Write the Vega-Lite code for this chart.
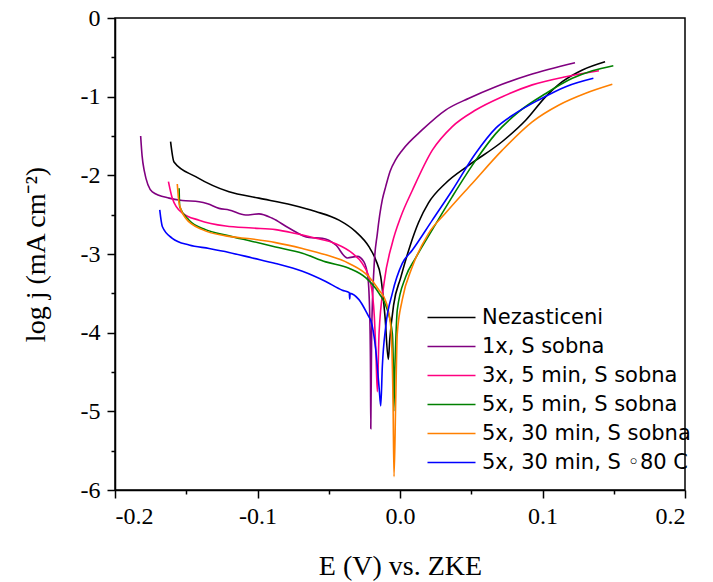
{
  "$schema": "https://vega.github.io/schema/vega-lite/v6.json",
  "width": 570,
  "height": 472,
  "autosize": {"type": "none"},
  "padding": {"left": 115, "top": 18, "right": 28, "bottom": 92},
  "background": "white",
  "config": {
    "view": {"stroke": "black", "strokeWidth": 1.5},
    "axis": {"domainColor": "black", "domainWidth": 1.5, "tickColor": "black", "tickWidth": 1.5, "grid": false,
      "labelFont": "Liberation Serif", "labelFontSize": 24, "labelColor": "black",
      "titleFont": "Liberation Serif", "titleFontSize": 28, "titleFontWeight": "normal", "titleColor": "black"}
  },
  "data": {"values": [
    {"s":"Nezasticeni","i":0,"E":-0.161,"j":-1.572},{"s":"Nezasticeni","i":1,"E":-0.1586,"j":-1.83},{"s":"Nezasticeni","i":2,"E":-0.1434,"j":-2.017},{"s":"Nezasticeni","i":3,"E":-0.12,"j":-2.21},{"s":"Nezasticeni","i":4,"E":-0.099,"j":-2.29},{"s":"Nezasticeni","i":5,"E":-0.0758,"j":-2.377},{"s":"Nezasticeni","i":6,"E":-0.0592,"j":-2.46},{"s":"Nezasticeni","i":7,"E":-0.0428,"j":-2.57},{"s":"Nezasticeni","i":8,"E":-0.0311,"j":-2.716},{"s":"Nezasticeni","i":9,"E":-0.0218,"j":-2.907},{"s":"Nezasticeni","i":10,"E":-0.017,"j":-3.076},{"s":"Nezasticeni","i":11,"E":-0.0135,"j":-3.29},{"s":"Nezasticeni","i":12,"E":-0.0105,"j":-3.8},{"s":"Nezasticeni","i":13,"E":-0.0082,"j":-4.34},{"s":"Nezasticeni","i":14,"E":-0.0072,"j":-4.09},{"s":"Nezasticeni","i":15,"E":-0.0045,"j":-3.65},{"s":"Nezasticeni","i":16,"E":0.0005,"j":-3.3},{"s":"Nezasticeni","i":17,"E":0.007,"j":-2.9},{"s":"Nezasticeni","i":18,"E":0.013,"j":-2.6},{"s":"Nezasticeni","i":19,"E":0.02,"j":-2.35},{"s":"Nezasticeni","i":20,"E":0.032,"j":-2.1},{"s":"Nezasticeni","i":21,"E":0.0484,"j":-1.87},{"s":"Nezasticeni","i":22,"E":0.0718,"j":-1.57},{"s":"Nezasticeni","i":23,"E":0.0882,"j":-1.3},{"s":"Nezasticeni","i":24,"E":0.1023,"j":-1.0},{"s":"Nezasticeni","i":25,"E":0.1139,"j":-0.81},{"s":"Nezasticeni","i":26,"E":0.128,"j":-0.66},{"s":"Nezasticeni","i":27,"E":0.1439,"j":-0.555},

    {"s":"1x, S sobna","i":0,"E":-0.182,"j":-1.5},{"s":"1x, S sobna","i":1,"E":-0.181,"j":-1.75},{"s":"1x, S sobna","i":2,"E":-0.1796,"j":-1.93},{"s":"1x, S sobna","i":3,"E":-0.1738,"j":-2.21},{"s":"1x, S sobna","i":4,"E":-0.162,"j":-2.29},{"s":"1x, S sobna","i":5,"E":-0.1528,"j":-2.32},{"s":"1x, S sobna","i":6,"E":-0.141,"j":-2.335},{"s":"1x, S sobna","i":7,"E":-0.135,"j":-2.36},{"s":"1x, S sobna","i":8,"E":-0.127,"j":-2.42},{"s":"1x, S sobna","i":9,"E":-0.12,"j":-2.44},{"s":"1x, S sobna","i":10,"E":-0.1083,"j":-2.504},{"s":"1x, S sobna","i":11,"E":-0.099,"j":-2.49},{"s":"1x, S sobna","i":12,"E":-0.0896,"j":-2.546},{"s":"1x, S sobna","i":13,"E":-0.078,"j":-2.67},{"s":"1x, S sobna","i":14,"E":-0.0639,"j":-2.79},{"s":"1x, S sobna","i":15,"E":-0.0545,"j":-2.8},{"s":"1x, S sobna","i":16,"E":-0.0451,"j":-2.885},{"s":"1x, S sobna","i":17,"E":-0.037,"j":-3.05},{"s":"1x, S sobna","i":18,"E":-0.03,"j":-3.03},{"s":"1x, S sobna","i":19,"E":-0.0253,"j":-3.1},{"s":"1x, S sobna","i":20,"E":-0.0225,"j":-3.3},{"s":"1x, S sobna","i":21,"E":-0.0212,"j":-3.8},{"s":"1x, S sobna","i":22,"E":-0.0207,"j":-4.5},{"s":"1x, S sobna","i":23,"E":-0.0205,"j":-5.22},{"s":"1x, S sobna","i":24,"E":-0.0199,"j":-4.01},{"s":"1x, S sobna","i":25,"E":-0.0182,"j":-3.16},{"s":"1x, S sobna","i":26,"E":-0.0159,"j":-2.74},{"s":"1x, S sobna","i":27,"E":-0.0124,"j":-2.31},{"s":"1x, S sobna","i":28,"E":-0.01,"j":-2.14},{"s":"1x, S sobna","i":29,"E":-0.007,"j":-1.95},{"s":"1x, S sobna","i":30,"E":-0.003,"j":-1.8},{"s":"1x, S sobna","i":31,"E":0.0016,"j":-1.68},{"s":"1x, S sobna","i":32,"E":0.0157,"j":-1.42},{"s":"1x, S sobna","i":33,"E":0.032,"j":-1.17},{"s":"1x, S sobna","i":34,"E":0.0484,"j":-1.02},{"s":"1x, S sobna","i":35,"E":0.0672,"j":-0.873},{"s":"1x, S sobna","i":36,"E":0.0905,"j":-0.725},{"s":"1x, S sobna","i":37,"E":0.1228,"j":-0.568},

    {"s":"3x, 5 min, S sobna","i":0,"E":-0.1625,"j":-2.08},{"s":"3x, 5 min, S sobna","i":1,"E":-0.1598,"j":-2.29},{"s":"3x, 5 min, S sobna","i":2,"E":-0.1528,"j":-2.48},{"s":"3x, 5 min, S sobna","i":3,"E":-0.141,"j":-2.57},{"s":"3x, 5 min, S sobna","i":4,"E":-0.1223,"j":-2.645},{"s":"3x, 5 min, S sobna","i":5,"E":-0.1036,"j":-2.67},{"s":"3x, 5 min, S sobna","i":6,"E":-0.0873,"j":-2.69},{"s":"3x, 5 min, S sobna","i":7,"E":-0.0732,"j":-2.74},{"s":"3x, 5 min, S sobna","i":8,"E":-0.059,"j":-2.8},{"s":"3x, 5 min, S sobna","i":9,"E":-0.0451,"j":-2.87},{"s":"3x, 5 min, S sobna","i":10,"E":-0.0335,"j":-2.99},{"s":"3x, 5 min, S sobna","i":11,"E":-0.0265,"j":-3.12},{"s":"3x, 5 min, S sobna","i":12,"E":-0.0206,"j":-3.37},{"s":"3x, 5 min, S sobna","i":13,"E":-0.018,"j":-3.8},{"s":"3x, 5 min, S sobna","i":14,"E":-0.017,"j":-4.2},{"s":"3x, 5 min, S sobna","i":15,"E":-0.0159,"j":-4.75},{"s":"3x, 5 min, S sobna","i":16,"E":-0.0147,"j":-4.01},{"s":"3x, 5 min, S sobna","i":17,"E":-0.0112,"j":-3.37},{"s":"3x, 5 min, S sobna","i":18,"E":-0.0054,"j":-2.86},{"s":"3x, 5 min, S sobna","i":19,"E":0.0005,"j":-2.53},{"s":"3x, 5 min, S sobna","i":20,"E":0.0087,"j":-2.19},{"s":"3x, 5 min, S sobna","i":21,"E":0.0227,"j":-1.68},{"s":"3x, 5 min, S sobna","i":22,"E":0.0367,"j":-1.38},{"s":"3x, 5 min, S sobna","i":23,"E":0.0531,"j":-1.17},{"s":"3x, 5 min, S sobna","i":24,"E":0.0718,"j":-1.0},{"s":"3x, 5 min, S sobna","i":25,"E":0.0928,"j":-0.85},{"s":"3x, 5 min, S sobna","i":26,"E":0.1163,"j":-0.746},{"s":"3x, 5 min, S sobna","i":27,"E":0.1396,"j":-0.67},

    {"s":"5x, 5 min, S sobna","i":0,"E":-0.155,"j":-2.165},{"s":"5x, 5 min, S sobna","i":1,"E":-0.1546,"j":-2.4},{"s":"5x, 5 min, S sobna","i":2,"E":-0.148,"j":-2.57},{"s":"5x, 5 min, S sobna","i":3,"E":-0.1364,"j":-2.69},{"s":"5x, 5 min, S sobna","i":4,"E":-0.1223,"j":-2.76},{"s":"5x, 5 min, S sobna","i":5,"E":-0.1036,"j":-2.84},{"s":"5x, 5 min, S sobna","i":6,"E":-0.0873,"j":-2.91},{"s":"5x, 5 min, S sobna","i":7,"E":-0.0685,"j":-2.99},{"s":"5x, 5 min, S sobna","i":8,"E":-0.0521,"j":-3.1},{"s":"5x, 5 min, S sobna","i":9,"E":-0.0358,"j":-3.18},{"s":"5x, 5 min, S sobna","i":10,"E":-0.0241,"j":-3.3},{"s":"5x, 5 min, S sobna","i":11,"E":-0.0147,"j":-3.5},{"s":"5x, 5 min, S sobna","i":12,"E":-0.0089,"j":-3.71},{"s":"5x, 5 min, S sobna","i":13,"E":-0.0054,"j":-4.01},{"s":"5x, 5 min, S sobna","i":14,"E":-0.0047,"j":-4.43},{"s":"5x, 5 min, S sobna","i":15,"E":-0.0044,"j":-5.0},{"s":"5x, 5 min, S sobna","i":16,"E":-0.0035,"j":-4.4},{"s":"5x, 5 min, S sobna","i":17,"E":-0.0019,"j":-3.71},{"s":"5x, 5 min, S sobna","i":18,"E":0.004,"j":-3.29},{"s":"5x, 5 min, S sobna","i":19,"E":0.011,"j":-3.05},{"s":"5x, 5 min, S sobna","i":20,"E":0.0227,"j":-2.69},{"s":"5x, 5 min, S sobna","i":21,"E":0.0367,"j":-2.27},{"s":"5x, 5 min, S sobna","i":22,"E":0.0531,"j":-1.81},{"s":"5x, 5 min, S sobna","i":23,"E":0.0672,"j":-1.47},{"s":"5x, 5 min, S sobna","i":24,"E":0.0835,"j":-1.19},{"s":"5x, 5 min, S sobna","i":25,"E":0.1023,"j":-0.96},{"s":"5x, 5 min, S sobna","i":26,"E":0.1209,"j":-0.767},{"s":"5x, 5 min, S sobna","i":27,"E":0.135,"j":-0.67},{"s":"5x, 5 min, S sobna","i":28,"E":0.1497,"j":-0.606},

    {"s":"5x, 30 min, S sobna","i":0,"E":-0.1563,"j":-2.11},{"s":"5x, 30 min, S sobna","i":1,"E":-0.155,"j":-2.355},{"s":"5x, 30 min, S sobna","i":2,"E":-0.1504,"j":-2.545},{"s":"5x, 30 min, S sobna","i":3,"E":-0.1387,"j":-2.69},{"s":"5x, 30 min, S sobna","i":4,"E":-0.1223,"j":-2.77},{"s":"5x, 30 min, S sobna","i":5,"E":-0.1036,"j":-2.81},{"s":"5x, 30 min, S sobna","i":6,"E":-0.0873,"j":-2.855},{"s":"5x, 30 min, S sobna","i":7,"E":-0.0685,"j":-2.93},{"s":"5x, 30 min, S sobna","i":8,"E":-0.0521,"j":-3.01},{"s":"5x, 30 min, S sobna","i":9,"E":-0.0358,"j":-3.12},{"s":"5x, 30 min, S sobna","i":10,"E":-0.0218,"j":-3.29},{"s":"5x, 30 min, S sobna","i":11,"E":-0.0147,"j":-3.46},{"s":"5x, 30 min, S sobna","i":12,"E":-0.01,"j":-3.6},{"s":"5x, 30 min, S sobna","i":13,"E":-0.0065,"j":-3.92},{"s":"5x, 30 min, S sobna","i":14,"E":-0.0049,"j":-4.86},{"s":"5x, 30 min, S sobna","i":15,"E":-0.0042,"j":-5.83},{"s":"5x, 30 min, S sobna","i":16,"E":-0.003,"j":-4.86},{"s":"5x, 30 min, S sobna","i":17,"E":-0.0019,"j":-4.01},{"s":"5x, 30 min, S sobna","i":18,"E":0.0016,"j":-3.58},{"s":"5x, 30 min, S sobna","i":19,"E":0.0087,"j":-3.16},{"s":"5x, 30 min, S sobna","i":20,"E":0.02,"j":-2.74},{"s":"5x, 30 min, S sobna","i":21,"E":0.032,"j":-2.48},{"s":"5x, 30 min, S sobna","i":22,"E":0.0508,"j":-2.1},{"s":"5x, 30 min, S sobna","i":23,"E":0.0718,"j":-1.68},{"s":"5x, 30 min, S sobna","i":24,"E":0.0928,"j":-1.32},{"s":"5x, 30 min, S sobna","i":25,"E":0.1116,"j":-1.106},{"s":"5x, 30 min, S sobna","i":26,"E":0.1303,"j":-0.957},{"s":"5x, 30 min, S sobna","i":27,"E":0.149,"j":-0.843},

    {"s":"5x, 30 min, S ◦80 C","i":0,"E":-0.1686,"j":-2.44},{"s":"5x, 30 min, S ◦80 C","i":1,"E":-0.1668,"j":-2.65},{"s":"5x, 30 min, S ◦80 C","i":2,"E":-0.1598,"j":-2.8},{"s":"5x, 30 min, S ◦80 C","i":3,"E":-0.148,"j":-2.885},{"s":"5x, 30 min, S ◦80 C","i":4,"E":-0.134,"j":-2.93},{"s":"5x, 30 min, S ◦80 C","i":5,"E":-0.12,"j":-2.98},{"s":"5x, 30 min, S ◦80 C","i":6,"E":-0.1036,"j":-3.05},{"s":"5x, 30 min, S ◦80 C","i":7,"E":-0.0873,"j":-3.12},{"s":"5x, 30 min, S ◦80 C","i":8,"E":-0.0685,"j":-3.22},{"s":"5x, 30 min, S ◦80 C","i":9,"E":-0.0521,"j":-3.35},{"s":"5x, 30 min, S ◦80 C","i":10,"E":-0.0405,"j":-3.46},{"s":"5x, 30 min, S ◦80 C","i":11,"E":-0.0356,"j":-3.49},{"s":"5x, 30 min, S ◦80 C","i":12,"E":-0.0353,"j":-3.57},{"s":"5x, 30 min, S ◦80 C","i":13,"E":-0.035,"j":-3.5},{"s":"5x, 30 min, S ◦80 C","i":14,"E":-0.0288,"j":-3.58},{"s":"5x, 30 min, S ◦80 C","i":15,"E":-0.0218,"j":-3.8},{"s":"5x, 30 min, S ◦80 C","i":16,"E":-0.0206,"j":-3.84},{"s":"5x, 30 min, S ◦80 C","i":17,"E":-0.017,"j":-4.22},{"s":"5x, 30 min, S ◦80 C","i":18,"E":-0.0147,"j":-4.69},{"s":"5x, 30 min, S ◦80 C","i":19,"E":-0.0135,"j":-4.93},{"s":"5x, 30 min, S ◦80 C","i":20,"E":-0.0124,"j":-4.43},{"s":"5x, 30 min, S ◦80 C","i":21,"E":-0.01,"j":-3.92},{"s":"5x, 30 min, S ◦80 C","i":22,"E":-0.0054,"j":-3.5},{"s":"5x, 30 min, S ◦80 C","i":23,"E":0.0016,"j":-3.12},{"s":"5x, 30 min, S ◦80 C","i":24,"E":0.0087,"j":-2.95},{"s":"5x, 30 min, S ◦80 C","i":25,"E":0.0227,"j":-2.57},{"s":"5x, 30 min, S ◦80 C","i":26,"E":0.0367,"j":-2.19},{"s":"5x, 30 min, S ◦80 C","i":27,"E":0.0531,"j":-1.72},{"s":"5x, 30 min, S ◦80 C","i":28,"E":0.0672,"j":-1.4},{"s":"5x, 30 min, S ◦80 C","i":29,"E":0.0812,"j":-1.21},{"s":"5x, 30 min, S ◦80 C","i":30,"E":0.0975,"j":-1.04},{"s":"5x, 30 min, S ◦80 C","i":31,"E":0.1163,"j":-0.873},{"s":"5x, 30 min, S ◦80 C","i":32,"E":0.1357,"j":-0.767}
  ]},
  "layer": [
    {
      "mark": {"type": "line", "strokeWidth": 1.6, "interpolate": "monotone"},
      "encoding": {
        "x": {"field": "E", "type": "quantitative", "scale": {"domain": [-0.2, 0.2], "nice": false},
          "axis": {"values": [-0.2, -0.1, 0, 0.1, 0.2], "labelExpr": "replace(format(datum.value, '.1f'), '−', '-')", "tickSize": 8, "labelPadding": 6, "title": "E (V) vs. ZKE", "titlePadding": 24}},
        "y": {"field": "j", "type": "quantitative", "scale": {"domain": [-6, 0], "nice": false},
          "axis": {"values": [-6, -5, -4, -3, -2, -1, 0], "labelExpr": "replace(format(datum.value, 'd'), '−', '-')", "tickSize": 8, "labelPadding": 7, "title": "log j (mA cm⁻²)", "titlePadding": 30}},
        "color": {"field": "s", "type": "nominal",
          "scale": {"domain": ["Nezasticeni", "1x, S sobna", "3x, 5 min, S sobna", "5x, 5 min, S sobna", "5x, 30 min, S sobna", "5x, 30 min, S ◦80 C"],
                    "range": ["#000000", "#800080", "#FF0080", "#008000", "#FF8000", "#0000FF"]},
          "legend": {"title": null, "orient": "none", "legendX": 326, "legendY": 289, "symbolType": "M-4,0H4", "symbolSize": 144, "symbolStrokeWidth": 1.6,
            "labelFont": "DejaVu Sans", "labelFontSize": 21, "labelColor": "black", "labelOffset": 20, "rowPadding": 7, "padding": 0, "labelLimit": 400}},
        "order": {"field": "i", "type": "quantitative"}
      }
    },
    {
      "mark": {"type": "line", "strokeOpacity": 0},
      "encoding": {
        "x": {"field": "E", "type": "quantitative", "scale": {"domain": [-0.2, 0.2], "nice": false},
          "axis": {"orient": "bottom", "values": [-0.15, -0.05, 0.05, 0.15], "tickSize": 4, "labels": false, "domain": false, "title": null}},
        "y": {"field": "j", "type": "quantitative", "scale": {"domain": [-6, 0], "nice": false},
          "axis": {"orient": "left", "values": [-5.5, -4.5, -3.5, -2.5, -1.5, -0.5], "tickSize": 4, "labels": false, "domain": false, "title": null}},
        "detail": {"field": "s", "type": "nominal"},
        "order": {"field": "i", "type": "quantitative"}
      }
    }
  ],
  "resolve": {"axis": {"x": "independent", "y": "independent"}}
}
